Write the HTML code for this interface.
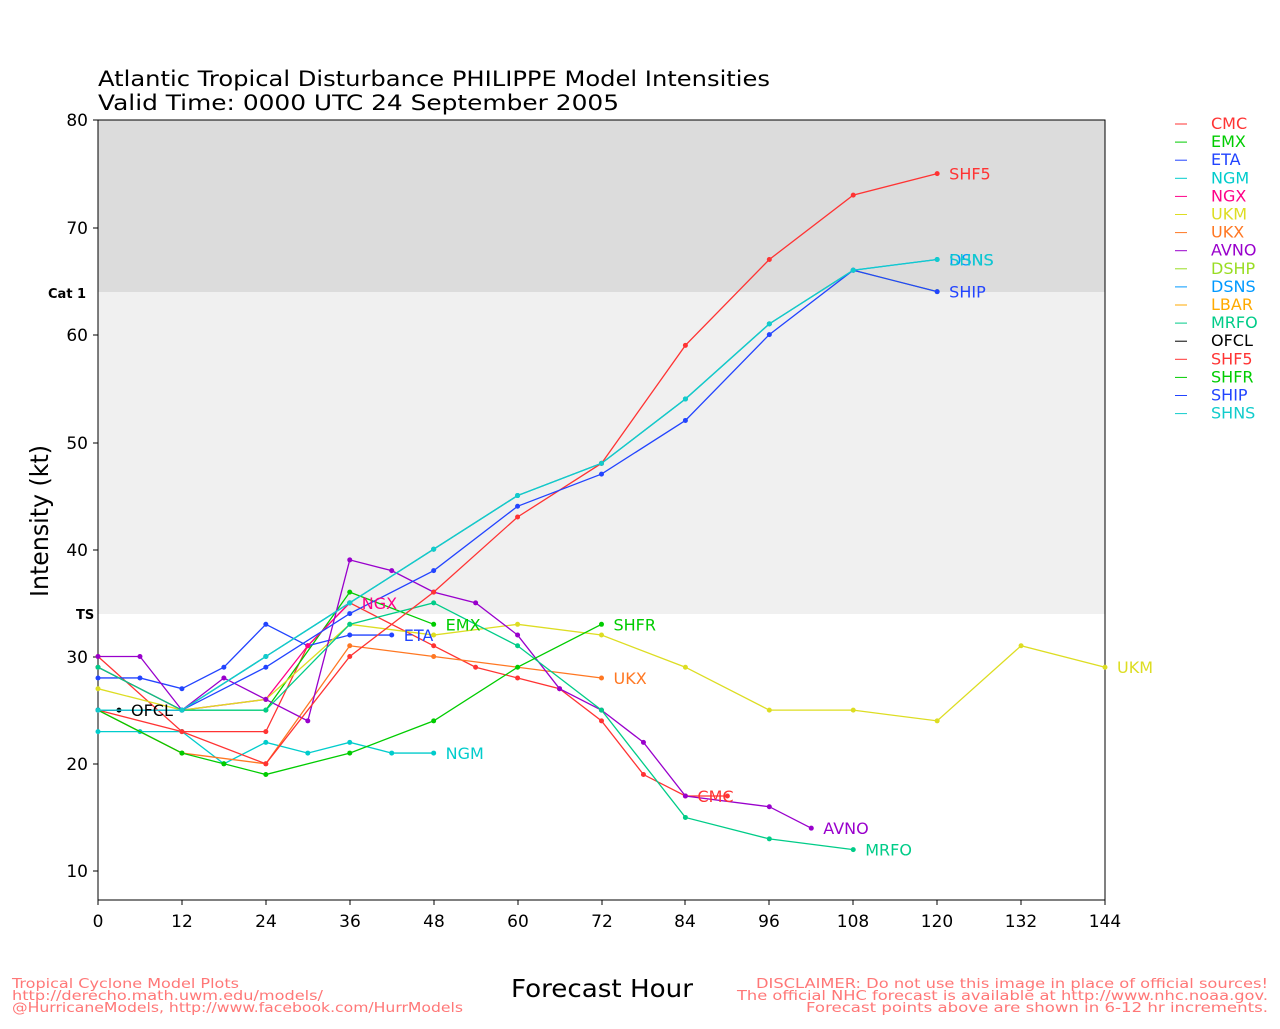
<!DOCTYPE html>
<html><head><meta charset="utf-8"><style>
body{margin:0;background:#fff}
svg text{font-family:"DejaVu Sans","Liberation Sans",sans-serif}
</style></head><body>
<svg width="1280" height="1024" xmlns="http://www.w3.org/2000/svg">
<rect x="98" y="120" width="1007" height="172" fill="#dcdcdc"/>
<rect x="98" y="292" width="1007" height="322" fill="#f0f0f0"/>
<rect x="98" y="120" width="1007" height="780" fill="none" stroke="#000" stroke-width="1"/>
<text x="98" y="86" font-size="21" textLength="672" lengthAdjust="spacingAndGlyphs">Atlantic Tropical Disturbance PHILIPPE Model Intensities</text>
<text x="98" y="110" font-size="21" textLength="521" lengthAdjust="spacingAndGlyphs">Valid Time: 0000 UTC 24 September 2005</text>
<g font-size="17" text-anchor="end">
<text x="88" y="126">80</text><text x="88" y="234">70</text><text x="88" y="341">60</text><text x="88" y="449">50</text><text x="88" y="556">40</text><text x="88" y="663">30</text><text x="88" y="770">20</text><text x="88" y="877">10</text>
</g>
<g stroke="#000"><line x1="93" y1="120" x2="98" y2="120"/><line x1="93" y1="228" x2="98" y2="228"/><line x1="93" y1="335" x2="98" y2="335"/><line x1="93" y1="443" x2="98" y2="443"/><line x1="93" y1="550" x2="98" y2="550"/><line x1="93" y1="657" x2="98" y2="657"/><line x1="93" y1="764" x2="98" y2="764"/><line x1="93" y1="871" x2="98" y2="871"/>
<line x1="98" y1="900" x2="98" y2="905"/><line x1="182" y1="900" x2="182" y2="905"/><line x1="266" y1="900" x2="266" y2="905"/><line x1="350" y1="900" x2="350" y2="905"/><line x1="434" y1="900" x2="434" y2="905"/><line x1="518" y1="900" x2="518" y2="905"/><line x1="602" y1="900" x2="602" y2="905"/><line x1="685" y1="900" x2="685" y2="905"/><line x1="769" y1="900" x2="769" y2="905"/><line x1="853" y1="900" x2="853" y2="905"/><line x1="937" y1="900" x2="937" y2="905"/><line x1="1021" y1="900" x2="1021" y2="905"/><line x1="1105" y1="900" x2="1105" y2="905"/></g>
<g font-size="17" text-anchor="middle">
<text x="98" y="927">0</text><text x="182" y="927">12</text><text x="266" y="927">24</text><text x="350" y="927">36</text><text x="434" y="927">48</text><text x="518" y="927">60</text><text x="602" y="927">72</text><text x="685" y="927">84</text><text x="769" y="927">96</text><text x="853" y="927">108</text><text x="937" y="927">120</text><text x="1021" y="927">132</text><text x="1105" y="927">144</text>
</g>
<text x="48" y="298" font-size="13" font-weight="bold">Cat 1</text>
<text x="76" y="619" font-size="13" font-weight="bold">TS</text>
<text transform="translate(48,521) rotate(-90)" font-size="25" text-anchor="middle" textLength="152" lengthAdjust="spacingAndGlyphs">Intensity (kt)</text>
<text x="511" y="997" font-size="25" textLength="182" lengthAdjust="spacingAndGlyphs">Forecast Hour</text>
<g font-size="13" fill="#ff7777">
<text x="12" y="988" textLength="227" lengthAdjust="spacingAndGlyphs">Tropical Cyclone Model Plots</text>
<text x="12" y="1000" textLength="311" lengthAdjust="spacingAndGlyphs">http://derecho.math.uwm.edu/models/</text>
<text x="12" y="1012" textLength="451" lengthAdjust="spacingAndGlyphs">@HurricaneModels, http://www.facebook.com/HurrModels</text>
<text x="756" y="988" textLength="512" lengthAdjust="spacingAndGlyphs">DISCLAIMER: Do not use this image in place of official sources!</text>
<text x="737" y="1000" textLength="531" lengthAdjust="spacingAndGlyphs">The official NHC forecast is available at http://www.nhc.noaa.gov.</text>
<text x="806" y="1012" textLength="462" lengthAdjust="spacingAndGlyphs">Forecast points above are shown in 6-12 hr increments.</text>
</g>
<g id="series" fill="none" stroke-width="1.3"></g>
<g id="labels" font-size="16"></g>
<g id="legend" font-size="16"></g>
</svg>
<script>
const X=h=>98+h*6.993, Y=v=>120+(80-v)*10.73;
const S=[
["CMC","#ff3333",[[0,30],[12,23],[24,23],[30,31],[36,35],[48,31],[54,29],[60,28],[66,27],[72,24],[78,19],[84,17],[90,17]],[84,17]],
["EMX","#00cc00",[[0,29],[12,25],[24,25],[36,36],[48,33]],[48,33]],
["ETA","#2244ff",[[0,28],[6,28],[12,27],[18,29],[24,33],[30,31],[36,32],[42,32]],[42,32]],
["NGM","#00cccc",[[0,23],[6,23],[12,23],[18,20],[24,22],[30,21],[36,22],[42,21],[48,21]],[48,21]],
["NGX","#ff0088",[[0,29],[12,25],[24,26],[30,31],[36,35]],[36,35]],
["UKM","#dddd22",[[0,27],[12,25],[24,26],[36,33],[48,32],[60,33],[72,32],[84,29],[96,25],[108,25],[120,24],[132,31],[144,29]],[144,29]],
["UKX","#ff7722",[[0,25],[12,21],[24,20],[36,31],[48,30],[72,28]],[72,28]],
["AVNO","#9900cc",[[0,30],[6,30],[12,25],[18,28],[24,26],[30,24],[36,39],[42,38],[48,36],[54,35],[60,32],[66,27],[72,25],[78,22],[84,17],[96,16],[102,14]],[102,14]],
["DSHP","#99dd22",[[0,25],[12,25],[24,30],[36,35],[48,40],[60,45],[72,48],[84,54],[96,61],[108,66],[120,64]],null],
["DSNS","#0099ff",[[0,25],[12,25],[24,30],[36,35],[48,40],[60,45],[72,48],[84,54],[96,61],[108,66],[120,67]],[120,67]],
["LBAR","#ffaa00",[],null],
["MRFO","#00cc88",[[0,29],[12,25],[24,25],[36,33],[48,35],[60,31],[72,25],[84,15],[96,13],[108,12]],[108,12]],
["OFCL","#000000",[[0,25],[3,25]],[3,25]],
["SHF5","#ff3333",[[0,25],[12,23],[24,20],[36,30],[48,36],[60,43],[72,48],[84,59],[96,67],[108,73],[120,75]],[120,75]],
["SHFR","#00cc00",[[0,25],[12,21],[18,20],[24,19],[36,21],[48,24],[60,29],[72,33]],[72,33]],
["SHIP","#2244ff",[[0,25],[12,25],[24,29],[36,34],[48,38],[60,44],[72,47],[84,52],[96,60],[108,66],[120,64]],[120,64]],
["SHNS","#11cccc",[[0,25],[12,25],[24,30],[36,35],[48,40],[60,45],[72,48],[84,54],[96,61],[108,66],[120,67]],[120,67]]];
const ns="http://www.w3.org/2000/svg";
const g=document.getElementById("series"),lb=document.getElementById("labels"),lg=document.getElementById("legend");
S.forEach((s,i)=>{
 if(s[2].length){const p=document.createElementNS(ns,"polyline");p.setAttribute("points",s[2].map(a=>X(a[0])+","+Y(a[1])).join(" "));p.setAttribute("stroke",s[1]);g.appendChild(p);
 s[2].forEach(a=>{const c=document.createElementNS(ns,"circle");c.setAttribute("cx",X(a[0]));c.setAttribute("cy",Y(a[1]));c.setAttribute("r",2.5);c.setAttribute("fill",s[1]);g.appendChild(c);});}
 if(s[3]){const t=document.createElementNS(ns,"text");t.setAttribute("x",X(s[3][0])+12);t.setAttribute("y",Y(s[3][1])+6);t.setAttribute("fill",s[1]);t.textContent=s[0];lb.appendChild(t);}
 const y=129+i*18.1;
 const l=document.createElementNS(ns,"line");l.setAttribute("x1",1175);l.setAttribute("x2",1187);l.setAttribute("y1",y-5);l.setAttribute("y2",y-5);l.setAttribute("stroke",s[1]);lg.appendChild(l);
 const t=document.createElementNS(ns,"text");t.setAttribute("x",1211);t.setAttribute("y",y);t.setAttribute("fill",s[1]);t.textContent=s[0];lg.appendChild(t);
});
</script>
</body></html>
